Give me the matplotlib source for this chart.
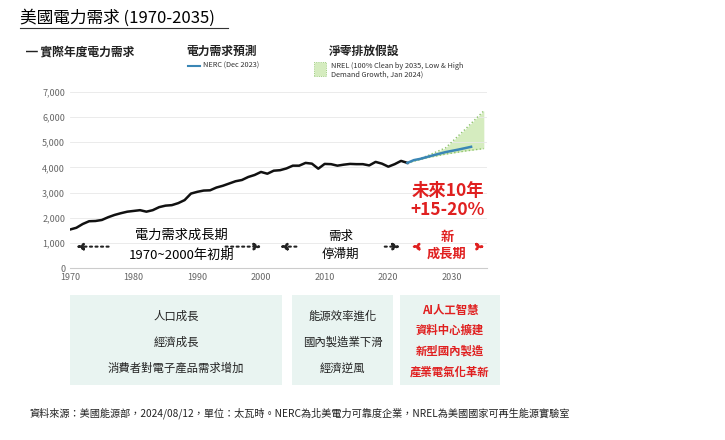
import matplotlib
matplotlib.use("Agg")
import matplotlib.pyplot as plt
from matplotlib.patches import Rectangle
from matplotlib.lines import Line2D

plt.rcParams['font.family'] = ['Noto Sans CJK TC', 'DejaVu Sans']

years = list(range(1970, 2024))
actual = [1530,1600,1750,1860,1870,1910,2020,2110,2180,2240,2270,2300,2240,2300,2420,2480,2500,2580,2700,2960,
          3030,3080,3090,3200,3270,3360,3450,3500,3620,3700,3820,3750,3870,3890,3960,4070,4070,4180,4150,3950,
          4140,4130,4070,4110,4140,4130,4130,4080,4220,4150,4030,4130,4260,4180]
nerc_years = [2023,2024,2025,2027,2029,2031,2033]
nerc = [4180,4290,4340,4480,4610,4710,4820]
nrel_years = [2023,2026,2029,2032,2035]
nrel_low = [4180,4380,4530,4650,4750]
nrel_high = [4180,4450,4780,5500,6250]
yticks = [0,1000,2000,3000,4000,5000,6000,7000]
xticks = [1970,1980,1990,2000,2010,2020,2030]

fig = plt.figure(figsize=(7.25,4.4), dpi=100)
ax = fig.add_axes([70/725, 1-268/440, 417/725, 176/440])
ax.fill_between(nrel_years, nrel_low, nrel_high, color='#d5ecbf', lw=0)
ax.plot(nrel_years, nrel_low, ls=':', color='#8cc36a', lw=1)
ax.plot(nrel_years, nrel_high, ls=':', color='#8cc36a', lw=1)
ax.plot(years, actual, color='#111111', lw=1.8)
ax.plot(nerc_years, nerc, color='#3a86b5', lw=1.8)
ax.set_xlim(1970, 2035.5); ax.set_ylim(0, 7000)
ax.set_yticks(yticks); ax.set_yticklabels([f"{v:,}" for v in yticks])
ax.set_xticks(xticks)
ax.tick_params(labelsize=6.5, colors='#666666', length=0)
ax.grid(axis='y', color='#e8e8e8', lw=0.6)
for s in ['top','right','left']: ax.spines[s].set_visible(False)
ax.spines['bottom'].set_color('#cccccc')

def arr(x0, x1, c):
    ax.annotate('', xy=(x1, 850), xytext=(x0, 850),
                arrowprops=dict(arrowstyle='-|>', ls=':', color=c, lw=1.5, mutation_scale=10))
arr(1976.5, 1970.5, '#222'); arr(1994, 2000.5, '#222')
arr(2006, 2002.5, '#222'); arr(2019, 2022.3, '#222')
arr(2025, 2023.2, '#e02020'); arr(2034, 2035.5, '#e02020')
ax.text(1987.5, 1300, '電力需求成長期', ha='center', va='center', fontsize=9.5)
ax.text(1987.5, 500, '1970~2000年初期', ha='center', va='center', fontsize=9.5)
ax.text(2012.5, 1250, '需求', ha='center', va='center', fontsize=9)
ax.text(2012.5, 550, '停滯期', ha='center', va='center', fontsize=9)
ax.text(2029.2, 1250, '新', ha='center', va='center', fontsize=9.5, color='#e02020', weight='bold')
ax.text(2029.2, 550, '成長期', ha='center', va='center', fontsize=9.5, color='#e02020', weight='bold')
ax.text(2029.3, 3050, '未來10年', ha='center', va='center', fontsize=12.5, color='#e02020', weight='bold')
ax.text(2029.3, 2320, '+15-20%', ha='center', va='center', fontsize=12.5, color='#e02020', weight='bold')

def fy(p): return 1-p/440
def fx(p): return p/725
fig.text(fx(20), fy(18), '美國電力需求 (1970-2035)', fontsize=12, va='center')
fig.add_artist(Line2D([fx(20), fx(228)], [fy(28), fy(28)], color='#333', lw=0.8))
fig.text(fx(26), fy(52), '━ 實際年度電力需求', fontsize=8.5, va='center', weight='bold', color='#222')
fig.text(fx(186), fy(51), '電力需求預測', fontsize=8.5, va='center', weight='bold', color='#222')
fig.add_artist(Line2D([fx(188), fx(200)], [fy(66), fy(66)], color='#3a86b5', lw=1.5))
fig.text(fx(203), fy(66), 'NERC (Dec 2023)', fontsize=5.3, va='center', color='#333')
fig.text(fx(329), fy(51), '淨零排放假設', fontsize=8.5, va='center', weight='bold', color='#222')
fig.add_artist(Rectangle((fx(314), fy(76)), fx(12), 14/440, facecolor='#d5ecbf', edgecolor='#8cc36a', ls=':', lw=0.6))
fig.text(fx(331), fy(66), 'NREL (100% Clean by 2035, Low & High', fontsize=5.3, va='center', color='#333')
fig.text(fx(331), fy(75), 'Demand Growth, Jan 2024)', fontsize=5.3, va='center', color='#333')

boxes = [(70,282,['人口成長','經濟成長','消費者對電子產品需求增加'],'#222', [316,342,368]),
         (292,393,['能源效率進化','國內製造業下滑','經濟逆風'],'#222', [316,342,368]),
         (400,500,['AI人工智慧','資料中心擴建','新型國內製造','產業電氣化革新'],'#e02020', [310,330,351,372])]
for x0,x1,lines,c,ys in boxes:
    fig.add_artist(Rectangle((fx(x0), fy(385)), fx(x1-x0), 90/440, facecolor='#e9f4f1', edgecolor='none'))
    for t,y in zip(lines, ys):
        fig.text(fx((x0+x1)/2), fy(y), t, ha='center', va='center', fontsize=8.2, color=c, weight='bold' if c!='#222' else 'normal')
fig.text(fx(30), fy(413), '資料來源：美國能源部，2024/08/12，單位：太瓦時。NERC為北美電力可靠度企業，NREL為美國國家可再生能源實驗室',
         fontsize=7.3, va='center', color='#222')
fig.savefig('out.png', dpi=100, facecolor='white')
